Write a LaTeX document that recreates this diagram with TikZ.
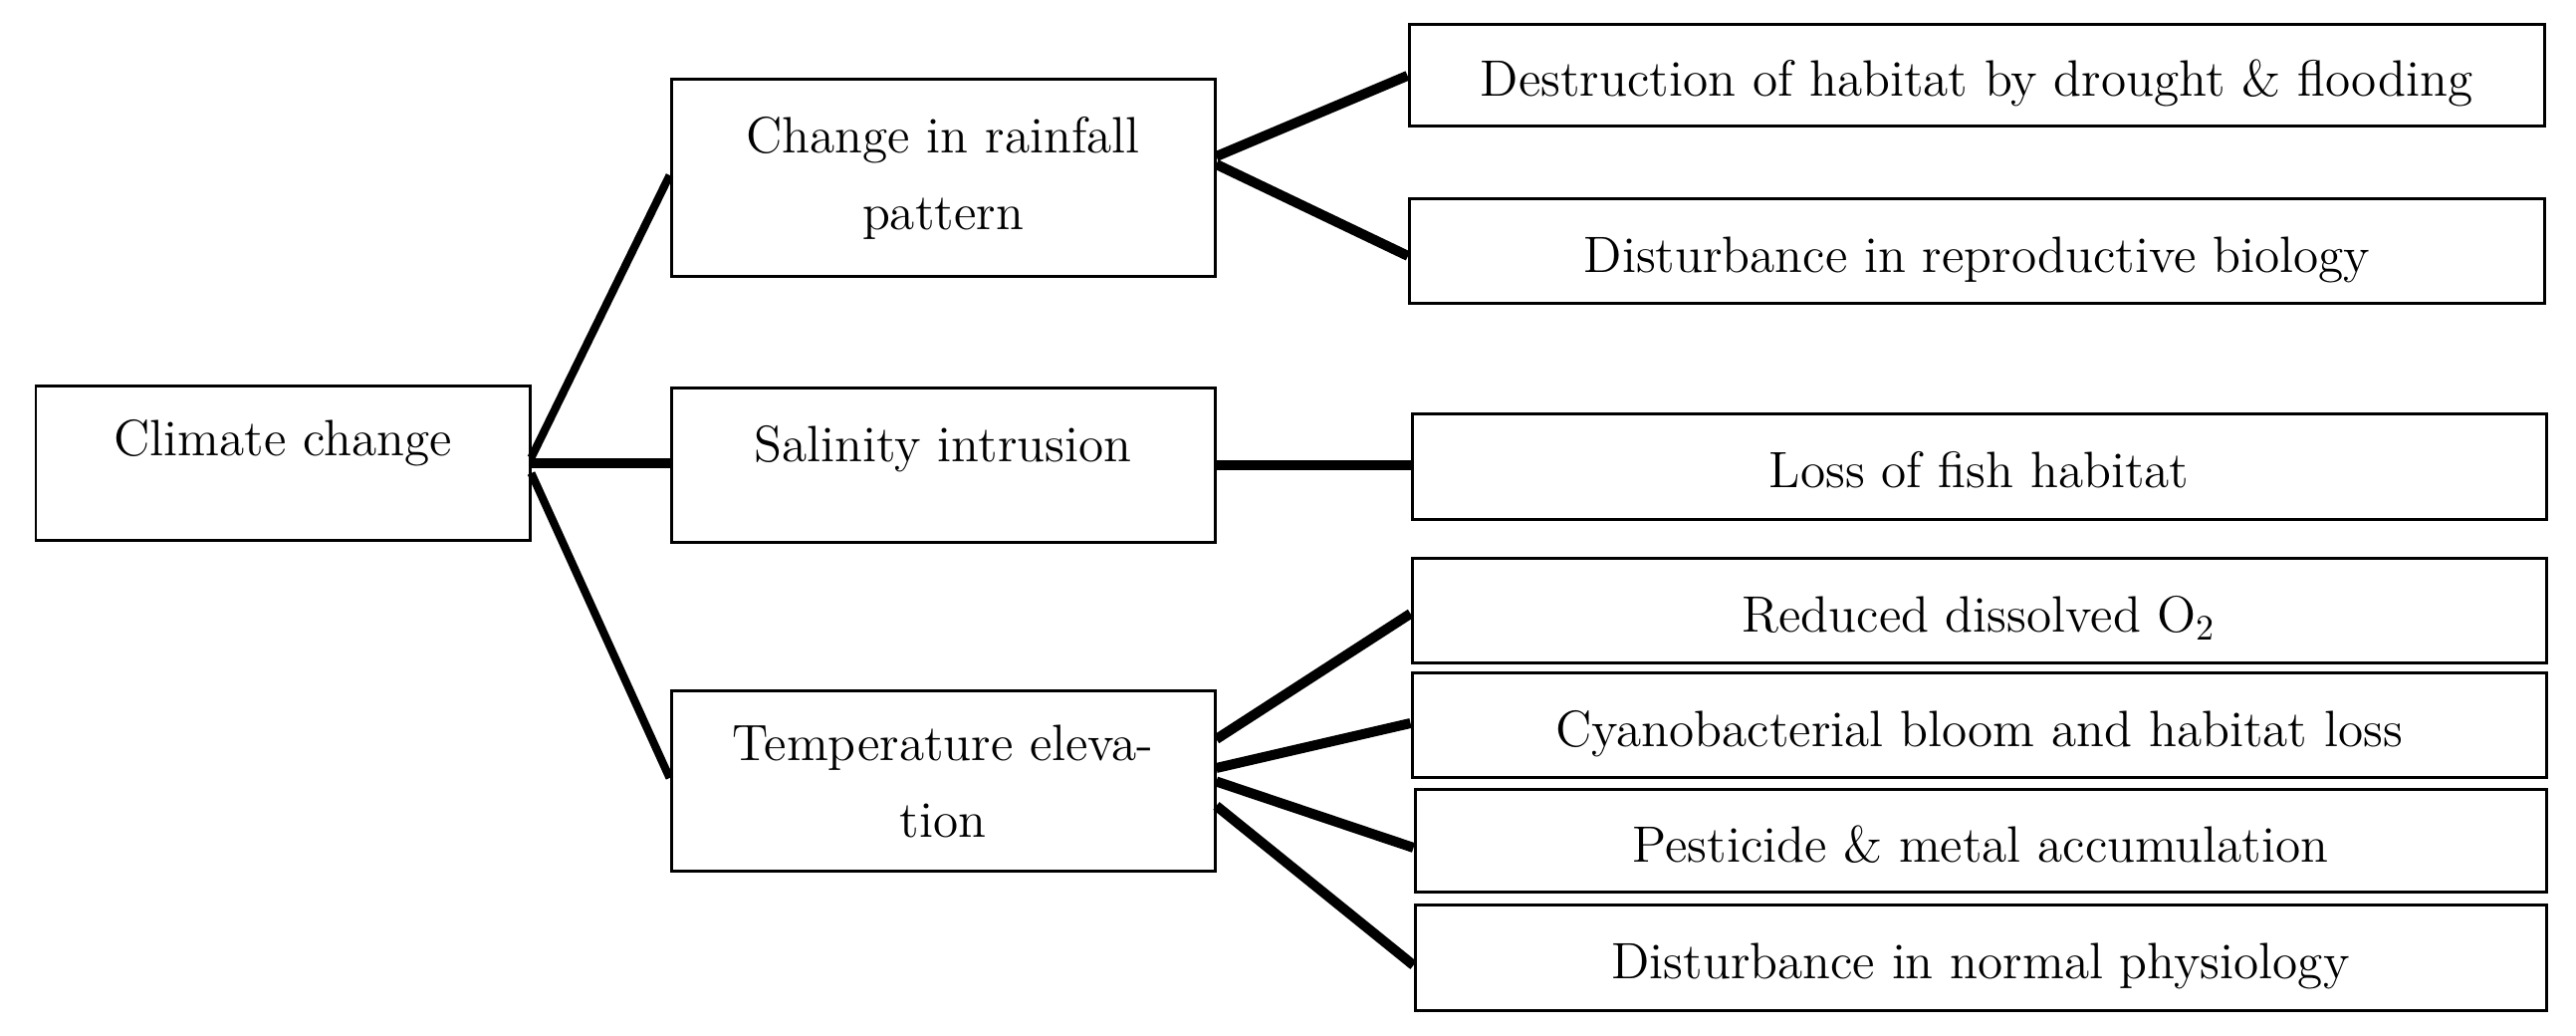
\documentclass[tikz,border=0pt]{standalone}
\usetikzlibrary{calc}
\begin{document}
\begin{tikzpicture}[
  x=1cm,y=1cm,
  box/.style={draw=black, line width=0.85pt, rectangle, inner sep=0pt, align=center,
    font={\fontsize{14.6pt}{22pt}\selectfont}},
  rbox/.style={box, minimum width=11.40cm, text height=0.42cm, text depth=0cm},
  conn/.style={line width=2.85pt, line cap=butt},
  thinconn/.style={line width=2.3pt, line cap=butt}
]
\useasboundingbox (0,0) rectangle (25.87,10.40);
% left and middle boxes (y = (1040 - ypx)/100)
\node[box, minimum width=4.96cm, minimum height=1.55cm, text height=0.25cm, text depth=0.41cm] (cc) at (2.84,5.745) {Climate change};
\node[box, minimum width=5.46cm, minimum height=1.98cm] (rain) at (9.47,8.61) {Change in rainfall\\pattern};
\node[box, minimum width=5.46cm, minimum height=1.55cm, text height=0.25cm, text depth=0.33cm] (sal) at (9.47,5.725) {Salinity intrusion};
\node[box, minimum width=5.46cm, minimum height=1.81cm] (temp) at (9.47,2.555) {Temperature eleva-\\tion};
% right boxes
\node[rbox, minimum height=1.02cm] (d1) at (19.85,9.64) {Destruction of habitat by drought \& flooding};
\node[rbox, minimum height=1.05cm] (d2) at (19.855,7.875) {Disturbance in reproductive biology};
\node[rbox, minimum width=11.39cm, minimum height=1.06cm] (fish) at (19.875,5.71) {Loss of fish habitat};
\node[rbox, minimum width=11.39cm, minimum height=1.05cm] (o2) at (19.875,4.265) {Reduced dissolved O\textsubscript{2}};
\node[rbox, minimum width=11.39cm, minimum height=1.05cm] (cy) at (19.875,3.115) {Cyanobacterial bloom and habitat loss};
\node[rbox, minimum width=11.36cm, minimum height=1.03cm] (pe) at (19.89,1.955) {Pesticide \& metal accumulation};
\node[rbox, minimum width=11.36cm, minimum height=1.06cm] (no) at (19.89,0.78) {Disturbance in normal physiology};
% connectors
\draw[thinconn] ([yshift=0.06cm]cc.east) -- ([yshift=0.03cm]rain.west);
\draw[conn] (cc.east) -- (cc.east -| sal.west);
\draw[thinconn] ([yshift=-0.095cm]cc.east) -- ([yshift=0.035cm]temp.west);
\draw[conn] ([yshift=0.22cm]rain.east) -- (d1.west);
\draw[conn] ([yshift=0.14cm]rain.east) -- ([yshift=-0.045cm]d2.west);
\draw[conn] (sal.east) -- (sal.east -| fish.west);
\draw[conn] ([yshift=0.425cm]temp.east) -- ([yshift=-0.025cm]o2.west);
\draw[conn] ([yshift=0.135cm]temp.east) -- ([yshift=0.025cm]cy.west);
\draw[conn] (temp.east) -- ([yshift=-0.065cm]pe.west);
\draw[conn] ([yshift=-0.245cm]temp.east) -- ([yshift=-0.07cm]no.west);
\end{tikzpicture}
\end{document}
